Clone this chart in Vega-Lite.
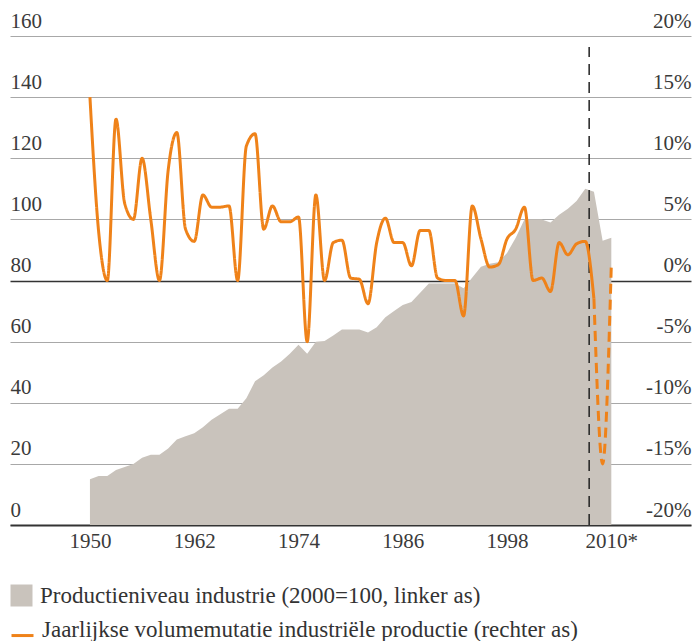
{
  "$schema": "https://vega.github.io/schema/vega-lite/v6.json",
  "width": 681,
  "height": 489,
  "autosize": "none",
  "padding": {"left": 10, "top": 36, "right": 3, "bottom": 116},
  "background": "white",
  "config": {
    "view": {"stroke": null},
    "font": "Liberation Serif",
    "axis": {"labelFont": "Liberation Serif", "labelColor": "#3a3a3a", "labelFontSize": 21, "title": null},
    "legend": {"labelFont": "Liberation Serif", "labelColor": "#333333", "labelFontSize": 23, "labelLimit": 800, "padding": 0, "title": null}
  },
  "datasets": {
    "prod": [
      {"year": 1950, "value": 15}, {"year": 1951, "value": 16}, {"year": 1952, "value": 16}, {"year": 1953, "value": 18},
      {"year": 1954, "value": 19}, {"year": 1955, "value": 20}, {"year": 1956, "value": 22}, {"year": 1957, "value": 23},
      {"year": 1958, "value": 23}, {"year": 1959, "value": 25}, {"year": 1960, "value": 28}, {"year": 1961, "value": 29},
      {"year": 1962, "value": 30}, {"year": 1963, "value": 32}, {"year": 1964, "value": 34.4}, {"year": 1965, "value": 36.2},
      {"year": 1966, "value": 38}, {"year": 1967, "value": 38}, {"year": 1968, "value": 41.5}, {"year": 1969, "value": 47},
      {"year": 1970, "value": 49}, {"year": 1971, "value": 51.5}, {"year": 1972, "value": 53.5}, {"year": 1973, "value": 56},
      {"year": 1974, "value": 59}, {"year": 1975, "value": 56}, {"year": 1976, "value": 60}, {"year": 1977, "value": 60.2},
      {"year": 1978, "value": 62}, {"year": 1979, "value": 64}, {"year": 1980, "value": 64}, {"year": 1981, "value": 64},
      {"year": 1982, "value": 63}, {"year": 1983, "value": 64.7}, {"year": 1984, "value": 68}, {"year": 1985, "value": 70},
      {"year": 1986, "value": 72}, {"year": 1987, "value": 73}, {"year": 1988, "value": 76}, {"year": 1989, "value": 79},
      {"year": 1990, "value": 79}, {"year": 1991, "value": 79}, {"year": 1992, "value": 79}, {"year": 1993, "value": 77.5},
      {"year": 1994, "value": 81}, {"year": 1995, "value": 84.5}, {"year": 1996, "value": 85.5}, {"year": 1997, "value": 86},
      {"year": 1998, "value": 89}, {"year": 1999, "value": 94}, {"year": 2000, "value": 100}, {"year": 2001, "value": 100},
      {"year": 2002, "value": 100}, {"year": 2003, "value": 99}, {"year": 2004, "value": 101.5}, {"year": 2005, "value": 103.5},
      {"year": 2006, "value": 106}, {"year": 2007, "value": 110}, {"year": 2008, "value": 109}, {"year": 2009, "value": 93},
      {"year": 2010, "value": 94}
    ],
    "mut": [
      {"year": 1950, "pct": 15, "seg": "solid"}, {"year": 1951, "pct": 4, "seg": "solid"}, {"year": 1952, "pct": 0, "seg": "solid"},
      {"year": 1953, "pct": 13.2, "seg": "solid"}, {"year": 1954, "pct": 6.3, "seg": "solid"}, {"year": 1955, "pct": 5.0, "seg": "solid"},
      {"year": 1956, "pct": 10, "seg": "solid"}, {"year": 1957, "pct": 5, "seg": "solid"}, {"year": 1958, "pct": 0, "seg": "solid"},
      {"year": 1959, "pct": 9, "seg": "solid"}, {"year": 1960, "pct": 12.1, "seg": "solid"}, {"year": 1961, "pct": 4.2, "seg": "solid"},
      {"year": 1962, "pct": 3.2, "seg": "solid"}, {"year": 1963, "pct": 7.0, "seg": "solid"}, {"year": 1964, "pct": 6.0, "seg": "solid"},
      {"year": 1965, "pct": 6.0, "seg": "solid"}, {"year": 1966, "pct": 6.1, "seg": "solid"}, {"year": 1967, "pct": 0, "seg": "solid"},
      {"year": 1968, "pct": 11, "seg": "solid"}, {"year": 1969, "pct": 12, "seg": "solid"}, {"year": 1970, "pct": 4.2, "seg": "solid"},
      {"year": 1971, "pct": 6.1, "seg": "solid"}, {"year": 1972, "pct": 4.8, "seg": "solid"}, {"year": 1973, "pct": 4.8, "seg": "solid"},
      {"year": 1974, "pct": 5.2, "seg": "solid"}, {"year": 1975, "pct": -5, "seg": "solid"}, {"year": 1976, "pct": 7, "seg": "solid"},
      {"year": 1977, "pct": 0, "seg": "solid"}, {"year": 1978, "pct": 3.1, "seg": "solid"}, {"year": 1979, "pct": 3.3, "seg": "solid"},
      {"year": 1980, "pct": 0.2, "seg": "solid"}, {"year": 1981, "pct": 0.1, "seg": "solid"}, {"year": 1982, "pct": -1.9, "seg": "solid"},
      {"year": 1983, "pct": 3.1, "seg": "solid"}, {"year": 1984, "pct": 5.1, "seg": "solid"}, {"year": 1985, "pct": 3.1, "seg": "solid"},
      {"year": 1986, "pct": 3.1, "seg": "solid"}, {"year": 1987, "pct": 1.2, "seg": "solid"}, {"year": 1988, "pct": 4.1, "seg": "solid"},
      {"year": 1989, "pct": 4.1, "seg": "solid"}, {"year": 1990, "pct": 0.2, "seg": "solid"}, {"year": 1991, "pct": 0, "seg": "solid"},
      {"year": 1992, "pct": 0, "seg": "solid"}, {"year": 1993, "pct": -2.9, "seg": "solid"}, {"year": 1994, "pct": 6.1, "seg": "solid"},
      {"year": 1995, "pct": 3.4, "seg": "solid"}, {"year": 1996, "pct": 1.1, "seg": "solid"}, {"year": 1997, "pct": 1.3, "seg": "solid"},
      {"year": 1998, "pct": 3.4, "seg": "solid"}, {"year": 1999, "pct": 4.2, "seg": "solid"}, {"year": 2000, "pct": 6.0, "seg": "solid"},
      {"year": 2001, "pct": 0, "seg": "solid"}, {"year": 2002, "pct": 0.2, "seg": "solid"}, {"year": 2003, "pct": -0.9, "seg": "solid"},
      {"year": 2004, "pct": 3.1, "seg": "solid"}, {"year": 2005, "pct": 2.1, "seg": "solid"}, {"year": 2006, "pct": 3.0, "seg": "solid"},
      {"year": 2007, "pct": 3.2, "seg": "solid"}, {"year": 2008, "pct": -1.5, "seg": "solid"},
      {"year": 2008, "pct": -1.5, "seg": "dashed"}, {"year": 2009, "pct": -15, "seg": "dashed"}, {"year": 2010, "pct": 1.3, "seg": "dashed"}
    ],
    "split": [{"year": 2007.45}]
  },
  "layer": [
    {
      "layer": [
        {
          "data": {"name": "prod"},
          "mark": {"type": "area", "interpolate": "linear"},
          "encoding": {
            "x": {"field": "year", "type": "quantitative", "scale": {"domain": [1940.8, 2019.17], "nice": false, "zero": false},
              "axis": {"values": [1950, 1962, 1974, 1986, 1998, 2010], "format": "d", "labelExpr": "datum.value === 2010 ? '2010*' : datum.label",
                "ticks": false, "tickSize": 0, "domain": true, "domainColor": "#333333", "domainWidth": 2, "grid": false,
                "labelPadding": 5, "labelFlush": false, "title": null}},
            "y": {"field": "value", "type": "quantitative", "scale": {"domain": [0, 160], "nice": false},
              "axis": {"orient": "left", "values": [0, 20, 40, 60, 80, 100, 120, 140, 160], "grid": true,
                "gridColor": {"condition": {"test": "datum.value === 80", "value": "#333333"}, "value": "#a8a8a8"},
                "gridWidth": {"condition": {"test": "datum.value === 80", "value": 1.5}, "value": 1},
                "ticks": false, "tickSize": 0, "domain": false, "labelAlign": "left", "labelBaseline": "alphabetic",
                "labelPadding": 0, "labelOffset": -9, "labelFlush": false, "title": null}},
            "fill": {"datum": "Productieniveau industrie (2000=100, linker as)", "type": "nominal",
              "scale": {"range": ["#c9c3bc"]},
              "legend": {"orient": "none", "legendX": 0, "legendY": 548, "symbolType": "square", "symbolSize": 484,
                "symbolStrokeWidth": 0, "labelOffset": 7, "title": null}}
          }
        },
        {
          "data": {"name": "split"},
          "mark": {"type": "rule", "color": "#222222", "strokeWidth": 1.5, "strokeDash": [11, 7]},
          "encoding": {
            "x": {"field": "year", "type": "quantitative", "scale": {"domain": [1940.8, 2019.17], "nice": false, "zero": false}},
            "y": {"datum": 0, "type": "quantitative"},
            "y2": {"datum": 156.4}
          }
        }
      ]
    },
    {
      "data": {"name": "mut"},
      "mark": {"type": "line", "interpolate": "monotone", "strokeWidth": 3},
      "encoding": {
        "x": {"field": "year", "type": "quantitative", "scale": {"domain": [1940.8, 2019.17], "nice": false, "zero": false}},
        "y": {"field": "pct", "type": "quantitative", "scale": {"domain": [-20, 20], "nice": false, "zero": false},
          "axis": {"orient": "right", "values": [-20, -15, -10, -5, 0, 5, 10, 15, 20], "grid": false,
            "ticks": false, "tickSize": 0, "domain": false, "labelAlign": "right", "labelBaseline": "alphabetic",
            "labelPadding": 0, "labelOffset": -9, "labelFlush": false, "labelExpr": "datum.value + '%'", "title": null}},
        "detail": {"field": "seg", "type": "nominal"},
        "stroke": {"datum": "Jaarlijkse volumemutatie industriële productie (rechter as)", "type": "nominal",
          "scale": {"range": ["#ef8219"]},
          "legend": {"orient": "none", "legendX": 0, "legendY": 581, "symbolType": "M-1,0.55H1", "symbolSize": 484,
            "symbolStrokeWidth": 3, "labelOffset": 7, "title": null}},
        "strokeDash": {"field": "seg", "type": "nominal", "scale": {"domain": ["solid", "dashed"], "range": [[1, 0], [10, 6]]}, "legend": null}
      }
    }
  ],
  "resolve": {"scale": {"y": "independent"}}
}
